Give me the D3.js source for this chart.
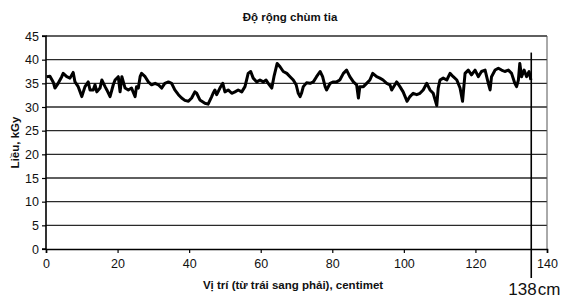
<!DOCTYPE html>
<html><head><meta charset="utf-8">
<script src="https://cdn.jsdelivr.net/npm/d3@7"></script>
<style>
html,body{margin:0;padding:0;background:#fff;}
svg{display:block;}
text{font-family:"Liberation Sans",Arial,sans-serif;fill:#111;}
</style></head>
<body>
<svg id="c" width="588" height="304"></svg>
<script>
// ---- data ----
const titleText = "Độ rộng chùm tia";
const xTitle = "Vị trí (từ trái sang phải), centimet";
const yTitle = "Liều, kGy";
const xTicks = [0, 20, 40, 60, 80, 100, 120, 140];
const yTicks = [0, 5, 10, 15, 20, 25, 30, 35, 40, 45];
const positions = [0.2,1.1,2.0,2.5,3.4,4.4,4.8,5.8,6.7,7.6,8.1,9.0,10.0,10.9,11.8,12.3,13.2,13.7,14.2,15.1,15.6,16.5,17.0,17.9,18.8,19.3,20.2,20.7,21.2,22.1,23.0,23.9,24.9,25.3,25.8,26.3,26.7,27.7,28.6,29.5,30.5,31.4,32.3,33.2,34.2,35.1,36.0,37.0,37.9,38.8,39.8,40.7,41.6,42.1,43.0,44.4,45.3,46.3,46.7,47.2,47.7,48.6,49.4,50.0,50.9,51.9,52.8,53.7,54.7,55.6,56.5,57.2,57.9,58.9,59.8,60.7,61.5,62.1,63.1,63.7,64.6,65.4,66.3,67.3,68.2,69.1,69.9,70.5,71.0,71.4,71.9,72.8,73.8,74.7,75.6,76.6,77.3,78.0,78.4,79.4,80.3,81.2,82.1,83.1,84.0,84.9,85.9,86.8,87.3,87.7,88.7,89.6,90.5,91.3,92.4,93.3,94.2,95.2,96.1,96.6,97.5,98.0,98.9,99.8,100.9,101.7,102.6,103.6,104.5,105.4,106.4,107.3,108.2,109.2,109.6,110.1,111.0,112.0,112.9,113.8,114.8,115.7,116.4,117.1,118.0,118.9,119.9,120.8,121.7,122.7,123.6,124.1,124.5,125.5,126.4,127.3,128.2,129.2,130.1,131.0,131.5,132.0,132.4,132.9,133.6,134.3,135.0,135.5];
const doses = [36.4,36.5,35.3,34.0,35.0,36.4,37.1,36.4,36.1,37.3,35.3,34.3,32.2,34.3,35.3,33.6,33.6,34.7,33.2,34.0,35.7,34.3,33.6,32.2,34.7,35.7,36.4,33.2,36.4,34.0,33.6,34.0,32.2,34.3,34.0,36.4,37.1,36.4,35.3,34.7,35.0,34.7,34.0,35.0,35.3,35.0,33.6,32.6,31.9,31.4,31.2,31.9,33.2,32.9,31.5,30.8,30.6,32.2,32.9,33.6,32.6,34.0,35.0,33.2,33.6,32.9,33.2,33.6,33.2,34.3,37.1,37.5,36.1,35.3,35.7,35.3,35.7,35.0,34.0,36.4,39.2,38.5,37.5,37.1,36.4,35.7,34.7,32.9,32.2,32.9,34.3,35.1,35.0,35.3,36.4,37.5,36.4,34.3,33.6,35.0,35.3,35.3,35.7,37.1,37.8,36.4,35.3,34.7,31.9,34.3,34.3,35.0,35.7,37.1,36.4,36.1,35.7,35.0,34.7,33.6,34.7,35.3,34.3,33.2,31.2,32.2,32.9,32.6,32.9,33.6,35.0,33.6,32.9,30.3,34.0,35.7,36.1,35.7,37.1,36.4,35.7,34.0,31.2,37.1,37.8,36.8,37.8,36.4,37.5,37.8,35.0,33.6,36.4,37.8,38.2,37.8,37.5,37.8,37.1,35.0,34.3,35.7,39.2,36.4,37.8,36.4,37.5,35.7];
const markerPos = 135.6;
const markerLabel = "138";
const markerUnit = "cm";

// ---- chart ----
const svg = d3.select("#c");
const x = d3.scaleLinear().domain([0, 140]).range([46, 547]);
const y = d3.scaleLinear().domain([0, 45]).range([249, 36]);

// gridlines
svg.append("g").selectAll("line").data(yTicks.filter(d => d > 0)).join("line")
  .attr("x1", x(0)).attr("x2", x(140))
  .attr("y1", d => y(d)).attr("y2", d => y(d))
  .attr("stroke", "#2a2a2a").attr("stroke-width", 1.3);

// right border
svg.append("line").attr("x1", x(140)).attr("x2", x(140)).attr("y1", y(45)).attr("y2", y(0))
  .attr("stroke", "#555").attr("stroke-width", 1);

// axes
const yAxis = d3.axisLeft(y).tickValues(yTicks).tickSize(4).tickPadding(3);
const gy = svg.append("g").attr("transform", `translate(${x(0)},0)`).call(yAxis);
const xAxis = d3.axisBottom(x).tickValues(xTicks).tickSize(4).tickPadding(6);
const gx = svg.append("g").attr("transform", `translate(0,${y(0)})`).call(xAxis);
[gy, gx].forEach(g => {
  g.select(".domain").attr("stroke", "#000").attr("stroke-width", 1.6);
  g.selectAll(".tick line").attr("stroke", "#000").attr("stroke-width", 1.2);
  g.selectAll(".tick text").attr("font-family", "'Liberation Sans',Arial,sans-serif")
    .attr("font-size", 12.5).attr("fill", "#111");
});
gy.select(".domain").attr("d", `M-4,${y(45)}H0V${y(0)}H-4`);

// data line
svg.append("path")
  .datum(positions.map((p, i) => [p, doses[i]]))
  .attr("fill", "none").attr("stroke", "#000").attr("stroke-width", 3)
  .attr("stroke-linejoin", "round")
  .attr("d", d3.line().x(d => x(d[0])).y(d => y(d[1])));

// marker
svg.append("line").attr("x1", x(markerPos)).attr("x2", x(markerPos))
  .attr("y1", y(41.5)).attr("y2", 278).attr("stroke", "#000").attr("stroke-width", 1.6);
const mt = svg.append("text").attr("x", x(markerPos) - 23).attr("y", 295)
  .attr("font-family", "Carlito,'Open Sans',sans-serif").attr("font-size", 17);
mt.append("tspan").text(markerLabel);
mt.append("tspan").attr("dx", 1).text(markerUnit);

// titles
svg.append("text").attr("x", 290).attr("y", 21).attr("text-anchor", "middle")
  .attr("font-weight", "bold").attr("font-size", 11.5).text(titleText);
svg.append("text").attr("x", 293).attr("y", 289).attr("text-anchor", "middle")
  .attr("font-weight", "bold").attr("font-size", 11.5).text(xTitle);
svg.append("text").attr("transform", `translate(19,${y(22.5)}) rotate(-90)`)
  .attr("text-anchor", "middle").attr("font-weight", "bold").attr("font-size", 11.5).text(yTitle);
</script>
</body></html>
